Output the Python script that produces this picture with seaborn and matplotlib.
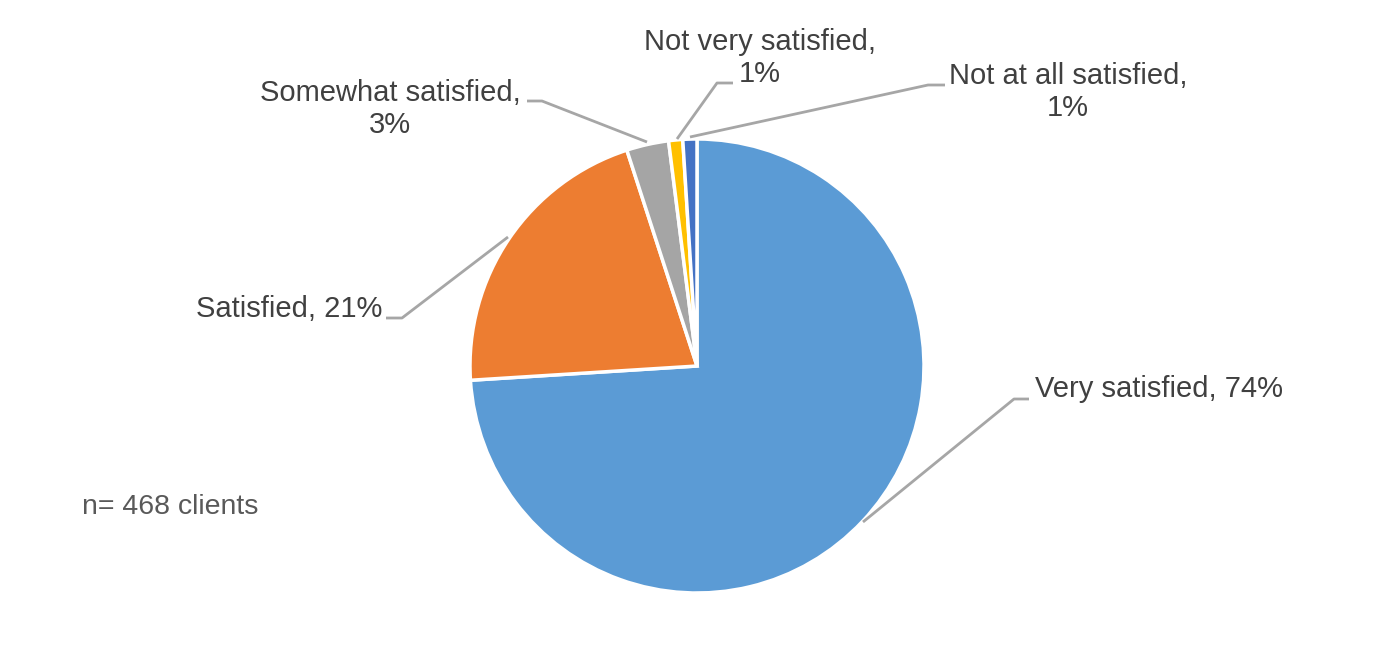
import matplotlib.pyplot as plt
import seaborn as sns

# Data
categories = ['Very satisfied', 'Satisfied', 'Somewhat satisfied',
              'Not very satisfied', 'Not at all satisfied']
shares = [74, 21, 3, 1, 1]  # percent
n_clients = 468
colors = ['#5B9BD5', '#ED7D31', '#A5A5A5', '#FFC000', '#4472C4']

W, H = 1397, 670

sns.set_theme(style='white')
plt.rcParams['font.family'] = ['Liberation Sans', 'DejaVu Sans']

fig = plt.figure(figsize=(W / 100, H / 100), dpi=100)
ax = fig.add_axes([0, 0, 1, 1])

# pie centre / radius in pixel space (y measured from the top)
cx, cy, r = 697, 366, 227
ax.pie(shares, colors=colors, startangle=90, counterclock=False,
       center=(cx, H - cy), radius=r,
       wedgeprops=dict(edgecolor='white', linewidth=2.5))
ax.set_xlim(0, W)
ax.set_ylim(0, H)
ax.set_aspect('equal')
ax.axis('off')

# label layout: leader line points (px, from top), text anchor, alignment, wrap
layout = [
    dict(line=[(863, 522), (1014, 399), (1029, 399)], xy=(1035, 389), ha='left', wrap=False),
    dict(line=[(508, 237), (402, 318), (386, 318)], xy=(382, 309), ha='right', wrap=False),
    dict(line=[(647, 142), (542, 101), (527, 101)], xy=(390, 109), ha='center', wrap=True),
    dict(line=[(677, 139), (717, 83), (733, 83)], xy=(760, 58), ha='center', wrap=True),
    dict(line=[(690, 137), (928, 85), (945, 85)], xy=(1068, 92), ha='center', wrap=True),
]

for name, val, lay in zip(categories, shares, layout):
    xs = [p[0] for p in lay['line']]
    ys = [H - p[1] for p in lay['line']]
    ax.plot(xs, ys, color='#A6A6A6', linewidth=2, solid_capstyle='butt')
    sep = ',\n' if lay['wrap'] else ', '
    ax.text(lay['xy'][0], H - lay['xy'][1], f'{name}{sep}{val}%',
            ha=lay['ha'], va='center', fontsize=21, color='#404040',
            linespacing=1.2, multialignment='center')

ax.text(82, H - 507, f'n= {n_clients} clients', ha='left', va='center',
        fontsize=20.5, color='#595959')

fig.savefig('out.png', dpi=100, facecolor='white')
